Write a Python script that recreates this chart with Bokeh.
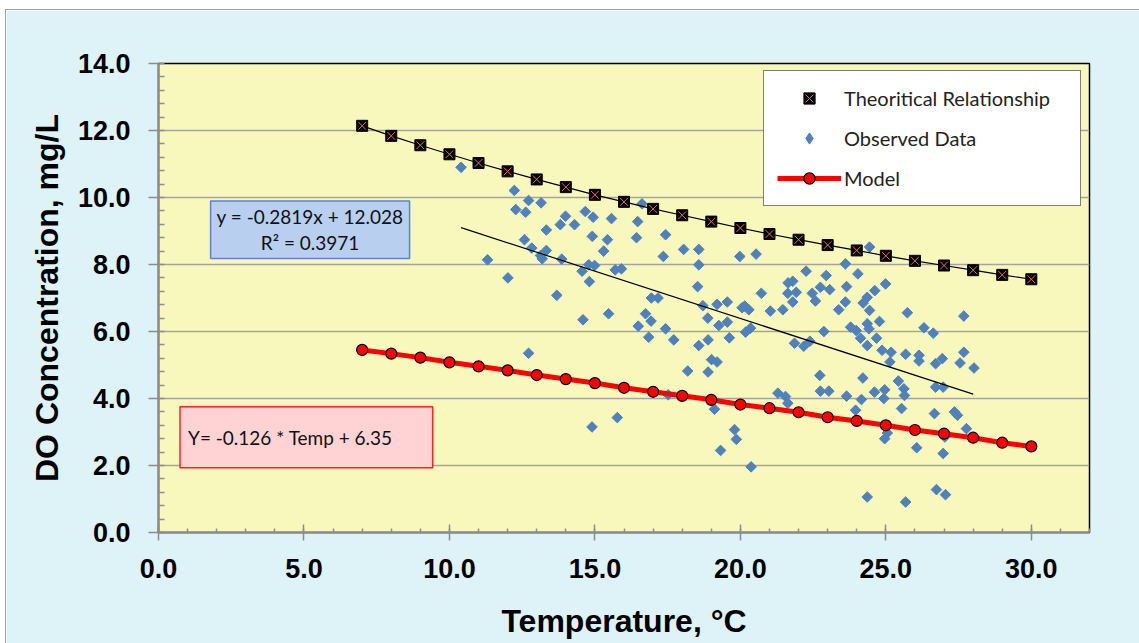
import math
from bokeh.plotting import figure
from bokeh.models import FixedTicker, NumeralTickFormatter, Legend, LegendItem, Label, Range1d
from bokeh.embed import file_html
from bokeh.resources import INLINE

# ---------------- data ----------------
temp_theory = [7, 8, 9, 10, 11, 12, 13, 14, 15, 16, 17, 18, 19, 20, 21, 22, 23, 24, 25, 26, 27, 28, 29, 30]
do_theory = [12.14, 11.84, 11.56, 11.29, 11.03, 10.78, 10.54, 10.31, 10.08, 9.87, 9.66, 9.47,
             9.28, 9.09, 8.91, 8.74, 8.58, 8.42, 8.26, 8.11, 7.97, 7.83, 7.69, 7.56]

temp_model = [7, 8, 9, 10, 11, 12, 13, 14, 15, 16, 17, 18, 19, 20, 21, 22, 23, 24, 25, 26, 27, 28, 29, 30]
do_model = [5.45, 5.34, 5.22, 5.08, 4.96, 4.84, 4.70, 4.58, 4.46, 4.32, 4.20, 4.08,
            3.96, 3.82, 3.71, 3.59, 3.44, 3.33, 3.20, 3.06, 2.95, 2.83, 2.68, 2.57]

obs_temp = [10.40, 12.23, 12.72, 13.15, 12.28, 12.62, 14.67, 13.99, 13.81, 14.30, 14.94, 13.33,
            14.91, 12.58, 12.83, 13.33, 13.13, 13.19, 13.86, 11.31, 14.79, 14.56, 12.01, 14.81,
            13.69, 14.59, 16.62, 15.57, 16.47, 15.43, 16.43, 17.43, 15.30, 18.05, 18.57, 17.35,
            19.98, 20.54, 18.57, 14.99, 15.70, 15.91, 22.26, 18.53, 21.64, 21.80, 20.72, 21.63,
            21.92, 21.80, 19.55, 19.20, 16.94, 17.17, 20.15, 20.06, 20.29, 21.03, 21.46, 18.71,
            15.47, 16.74, 18.88, 16.93, 19.55, 19.26, 16.49, 17.43, 20.35, 20.18, 16.85, 17.71,
            19.62, 18.89, 18.57, 19.01, 19.20, 18.19, 18.89, 21.86, 22.18, 17.52, 21.29, 21.55,
            21.63, 19.11, 15.77, 14.90, 19.80, 19.86, 19.32, 20.37, 12.72, 24.44, 23.61, 22.95,
            24.04, 24.99, 24.62, 23.65, 23.07, 22.75, 22.47, 22.58, 24.36, 23.61, 24.22, 23.38,
            24.44, 25.74, 27.68, 24.78, 22.87, 23.79, 23.98, 24.36, 24.42, 26.31, 26.63, 24.13,
            24.68, 22.39, 24.36, 24.87, 25.18, 25.14, 25.68, 26.14, 26.14, 26.71, 26.94, 27.68,
            27.55, 28.03, 22.73, 24.21, 25.43, 25.62, 25.64, 26.71, 26.97, 22.75, 23.04, 23.65,
            24.61, 24.96, 24.93, 24.16, 23.96, 25.54, 26.67, 27.36, 27.46, 27.77, 25.05, 24.96,
            27.03, 26.06, 26.97, 24.36, 25.68, 26.74, 27.05]
obs_do = [10.90, 10.21, 9.91, 9.84, 9.64, 9.56, 9.58, 9.44, 9.19, 9.19, 9.41, 9.03,
          8.84, 8.74, 8.49, 8.42, 8.27, 8.17, 8.16, 8.14, 7.99, 7.80, 7.60, 7.49,
          7.08, 6.35, 9.81, 9.37, 9.28, 8.74, 8.80, 8.89, 8.40, 8.45, 8.45, 8.24,
          8.24, 8.31, 7.99, 7.97, 7.84, 7.87, 7.80, 7.34, 7.45, 7.50, 7.14, 7.14,
          7.17, 6.88, 6.88, 6.81, 7.00, 7.00, 6.76, 6.71, 6.65, 6.61, 6.65, 6.77,
          6.53, 6.53, 6.40, 6.31, 6.28, 6.18, 6.16, 6.08, 6.10, 5.98, 5.83, 5.75,
          5.81, 5.75, 5.58, 5.16, 5.09, 4.82, 4.79, 5.65, 5.56, 4.11, 4.16, 4.06,
          3.86, 3.68, 3.43, 3.15, 3.07, 2.78, 2.45, 1.96, 5.35, 8.52, 8.02, 7.67,
          7.72, 7.42, 7.22, 7.34, 7.25, 7.32, 7.14, 6.91, 7.02, 6.88, 6.85, 6.65,
          6.63, 6.56, 6.46, 6.30, 6.00, 6.13, 6.03, 6.23, 6.08, 6.11, 5.95, 5.80,
          5.80, 5.71, 5.58, 5.44, 5.38, 5.09, 5.32, 5.29, 5.12, 5.04, 5.19, 5.38,
          5.06, 4.91, 4.69, 4.61, 4.52, 4.29, 4.09, 4.34, 4.34, 4.22, 4.22, 4.07,
          4.19, 4.26, 4.00, 3.97, 3.65, 3.70, 3.55, 3.60, 3.50, 3.10, 2.97, 2.80,
          2.85, 2.53, 2.36, 1.06, 0.91, 1.28, 1.13]

trend_temp = [10.4, 28.0]
trend_do = [9.10, 4.13]

x_ticks = [0, 5, 10, 15, 20, 25, 30]
y_ticks = [0, 2, 4, 6, 8, 10, 12, 14]

# ---------------- figure ----------------
p = figure(frame_width=931, frame_height=469,
           x_range=Range1d(0, 32), y_range=Range1d(0, 14),
           output_backend="svg", toolbar_location=None,
           min_border_left=152, min_border_right=50, min_border_top=53, min_border_bottom=111,
           background_fill_color="#F8F8BC", border_fill_color="#DDF3F8",
           outline_line_color="black", outline_line_width=1.5)
p.margin = (10, 0, 0, 6)
p.styles = {"outline": "1px solid #A0A0A0"}

p.xgrid.visible = False
p.ygrid.ticker = FixedTicker(ticks=y_ticks)
p.ygrid.grid_line_color = "#A3A3A3"
p.ygrid.grid_line_width = 1.5

p.xaxis.ticker = FixedTicker(ticks=x_ticks, minor_ticks=list(range(0, 33)))
p.yaxis.ticker = FixedTicker(ticks=y_ticks, minor_ticks=[round(i * 0.4, 1) for i in range(36)])
for ax in (p.xaxis[0], p.yaxis[0]):
    ax.formatter = NumeralTickFormatter(format="0.0")
    ax.axis_line_color = "#8C8C8C"
    ax.axis_line_width = 2
    ax.major_tick_line_color = "#8C8C8C"
    ax.minor_tick_line_color = "#8C8C8C"
    ax.major_tick_line_width = 1.5
    ax.minor_tick_line_width = 1.5
    ax.major_label_text_font = "Liberation Sans"
    ax.major_label_text_font_style = "bold"
    ax.major_label_text_font_size = "27px"
    ax.major_label_text_color = "black"
    ax.axis_label_text_font = "Liberation Sans"
    ax.axis_label_text_font_style = "bold"
    ax.axis_label_text_font_size = "32px"
    ax.axis_label_text_color = "black"

p.xaxis.axis_label = "Temperature, °C"
p.yaxis.axis_label = "DO Concentration, mg/L"
p.xaxis.major_tick_in = 8
p.xaxis.major_tick_out = 8
p.xaxis.minor_tick_in = 4
p.xaxis.minor_tick_out = 0
p.xaxis.major_label_standoff = 18
p.xaxis.axis_label_standoff = 22
p.yaxis.major_tick_in = 0
p.yaxis.major_tick_out = 10
p.yaxis.minor_tick_in = 6
p.yaxis.minor_tick_out = 0
p.yaxis.major_label_standoff = 18
p.yaxis.axis_label_standoff = 10

# ---------------- glyphs ----------------
# diamond key glyph (hidden beneath the rotated squares, used for the legend swatch)
obs_key = p.scatter(obs_temp, obs_do, marker="diamond", size=8,
                    fill_color="#4F81BD", line_color="#4F81BD")
obs = p.scatter(obs_temp, obs_do, marker="square", angle=math.pi / 4, size=7.5,
                fill_color="#4F81BD", line_color="#4F81BD")
p.line(trend_temp, trend_do, line_color="black", line_width=1.2)
p.line(temp_theory, do_theory, line_color="black", line_width=1.2)
th_sq = p.scatter(temp_theory, do_theory, marker="square", size=11,
                  fill_color="black", line_color="black")
th_x = p.scatter(temp_theory, do_theory, marker="x", size=11,
                 line_color="#E8706A", line_width=1)
m_line = p.line(temp_model, do_model, line_color="#FF0000", line_width=5)
m_circ = p.scatter(temp_model, do_model, marker="circle", size=11,
                   fill_color="#FF0000", line_color="black", line_width=1.2)

legend = Legend(items=[
    LegendItem(label="Theoritical Relationship", renderers=[th_sq, th_x]),
    LegendItem(label="Observed Data", renderers=[obs_key]),
    LegendItem(label="Model", renderers=[m_line, m_circ]),
], location=(605, 326))
legend.border_line_color = "black"
legend.border_line_width = 1
legend.background_fill_color = "white"
legend.background_fill_alpha = 1
legend.label_text_font = "Lato"
legend.label_text_font_size = "20px"
legend.label_text_color = "#222222"
legend.glyph_width = 64
legend.glyph_height = 28
legend.label_height = 28
legend.spacing = 12
legend.padding = 13
legend.label_standoff = 3
legend.label_width = 223
legend.margin = 0
p.add_layout(legend)

eq1 = Label(x=5.21, y=9.04, text="y = -0.2819x + 12.028\nR² = 0.3971",
            text_align="center", text_baseline="middle",
            text_font="Lato", text_font_size="19px", text_color="#111111",
            text_line_height=1.15,
            background_fill_color="#B8CFF0", border_line_color="#5B86C5", border_line_width=1.5,
            padding=dict(left=6, right=6, top=4, bottom=4))
p.add_layout(eq1)

eq2 = Label(x=0.74, y=2.84, text="Y= -0.126 * Temp + 6.35",
            text_align="left", text_baseline="middle",
            text_font="Lato", text_font_size="19px", text_color="#111111",
            background_fill_color="#FFD3D3", border_line_color="#FF2020", border_line_width=1.5,
            padding=dict(left=8, right=40, top=19, bottom=19))
p.add_layout(eq2)

open("out.html", "w").write(file_html(p, INLINE))
